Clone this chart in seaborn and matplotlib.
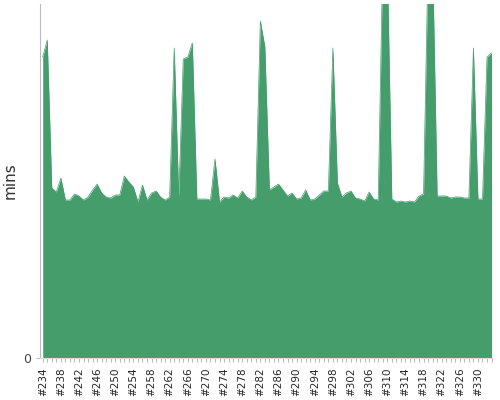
import matplotlib
matplotlib.use("Agg")
import matplotlib.pyplot as plt
import numpy as np
import seaborn as sb

builds = list(range(234, 334))
tops = [57, 40, 188, 192, 178, 200, 200, 194, 196, 200,
        197, 190, 184, 193, 197, 198, 195, 195, 176, 182,
        187, 202, 185, 200, 193, 191, 197, 200, 197, 48,
        197, 59, 57, 43, 199, 199, 199, 200, 159, 202,
        197, 198, 195, 198, 191, 197, 200, 197, 21, 47,
        190, 187, 184, 190, 196, 193, 199, 198, 190, 200,
        199, 195, 191, 191, 48, 183, 197, 193, 191, 198,
        199, 201, 192, 199, 200, -40, -40, 199, 202, 201,
        202, 201, 202, 196, 194, -40, -40, 196, 196, 196,
        198, 197, 197, 198, 198, 48, 199, 199, 57, 53]
mins = [(358 - t) / 10 for t in tops]
labels = ["#%d" % b for b in builds]

sb.set_style("white")
fig = plt.figure(figsize=(5, 4), dpi=100)
ax = fig.add_axes([0.08, 0.105, 0.904, 0.885])
x = np.arange(len(builds))
sb.lineplot(x=x, y=mins, ax=ax, color="#459d6b", linewidth=0.5)
ax.fill_between(x, mins, 0, color="#459d6b", linewidth=0)

ax.set_xlim(-0.6, len(builds) - 0.9)
ax.set_ylim(0, 35.4)
ax.set_yticks([0])
ax.set_yticklabels(["0"], color="#444444", fontsize=9)
ax.set_xticks(x[::4])
ax.set_xticklabels(labels[::4], rotation=90, fontsize=7.5)
ax.set_xticks(x, minor=True)
ax.tick_params(axis="x", which="both", bottom=True, length=3, color="#bbbbbb", width=0.8)
ax.tick_params(axis="y", left=True, length=3, color="#bbbbbb")
ax.set_ylabel("mins", fontsize=11, color="#333333")
for s in ["top", "right"]:
    ax.spines[s].set_visible(False)
ax.spines["left"].set_color("#bbbbbb")
ax.spines["bottom"].set_color("#dddddd")
plt.savefig("out.png", dpi=100)
